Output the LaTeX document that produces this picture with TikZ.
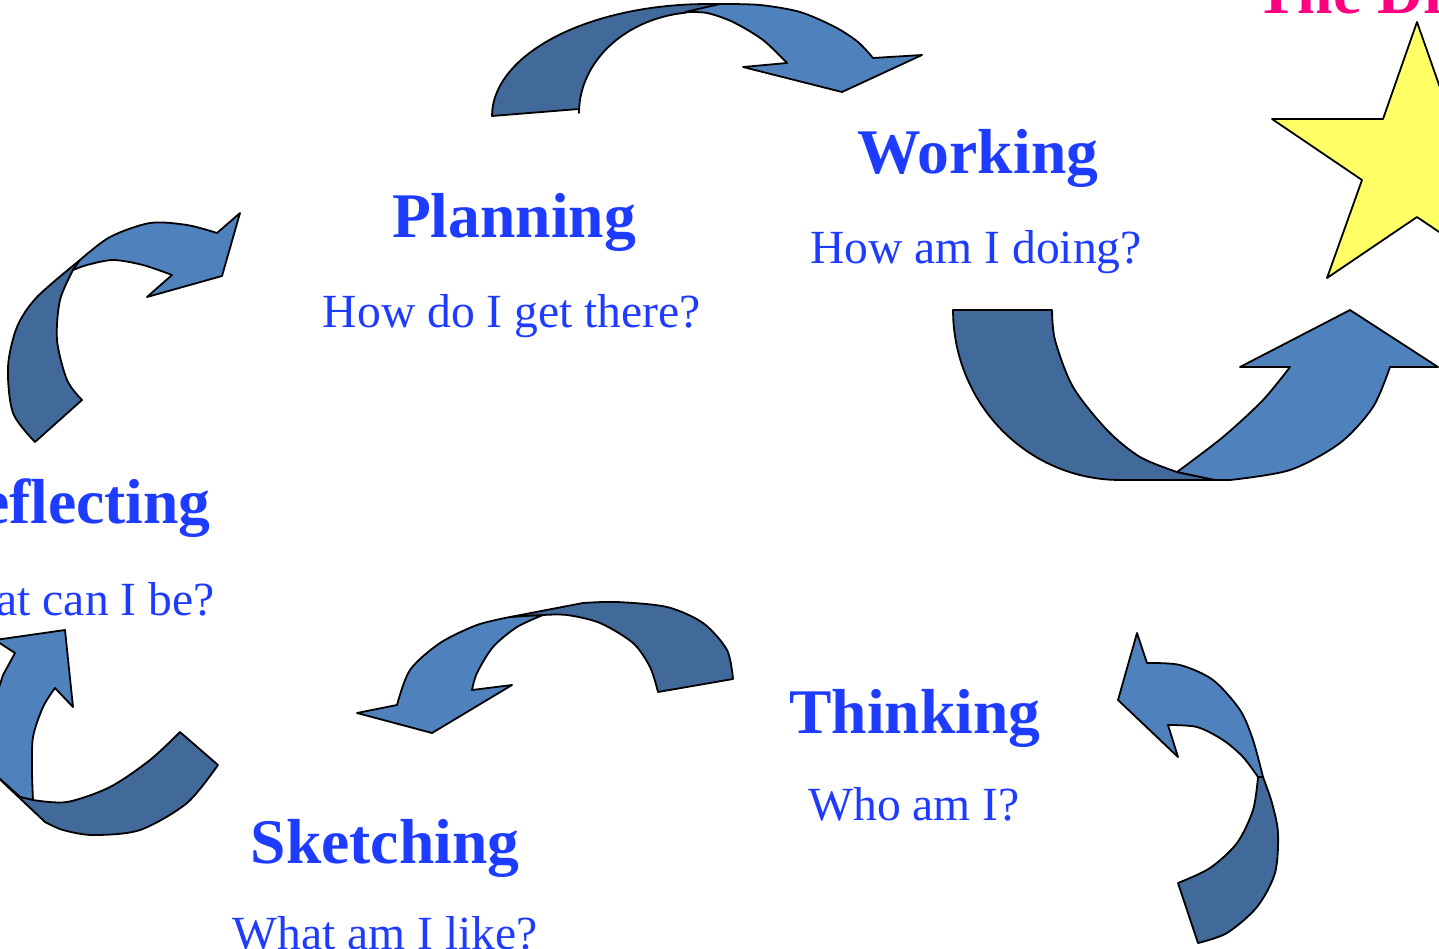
\documentclass[tikz,border=0pt]{standalone}
\usepackage{fontspec}
\setmainfont{Liberation Serif}
\definecolor{textblue}{RGB}{30,60,255}
\definecolor{titlepink}{RGB}{255,0,128}
\definecolor{arrowdark}{RGB}{65,105,153}
\definecolor{arrowlight}{RGB}{79,129,189}
\definecolor{staryellow}{RGB}{255,255,102}

\begin{document}
\begin{tikzpicture}[x=0.5pt,y=-0.5pt,
    back/.style={fill=arrowdark,draw=black,line width=0.9pt,line join=round},
    front/.style={fill=arrowlight,draw=black,line width=0.9pt,line join=round},
    stage/.style={text=textblue,font=\fontsize{31.8}{36}\selectfont\bfseries,inner sep=0pt,anchor=base},
    question/.style={text=textblue,font=\fontsize{23.8}{28}\selectfont,inner sep=0pt,anchor=base}]
        \useasboundingbox (0,0) rectangle (1439,948);
        \clip (0,0) rectangle (1439,948);
        % star
        \filldraw[fill=staryellow,draw=black,line width=0.9pt,line join=round] (1417,22) -- (1451,119) -- (1562,119) -- (1472,180) -- (1507,278) -- (1417,217) -- (1327,278) -- (1362,180) -- (1272,119) -- (1383,119) -- cycle;
        \node[text=titlepink,font=\fontsize{31.8}{36}\selectfont\bfseries,inner sep=0pt,anchor=base west] (title) at (1255,13) {The Dream};
        % planning -> working
        \filldraw[back] (492,116) -- (579,109) -- plot[domain=180:97,samples=25,smooth] ({700+121*cos(\x)},{113-101*sin(\x)}) -- (720,4) -- plot[domain=90:180,samples=25,smooth] ({708+216*cos(\x)},{116-112*sin(\x)}) -- cycle;
        \filldraw[front] (685,12) -- (720,4) -- plot[smooth] coordinates {(720,4) (760,5) (800,12) (835,27) (858,42) (873,58)} -- (922,55) -- (842,92) -- (743,67) -- (787,63) -- plot[smooth] coordinates {(787,63) (763,40) (733,22) (707,13) (685,12)} -- cycle;
        % working -> star
        \filldraw[back] (953,310) -- (1052,310) -- plot[smooth] coordinates {(1052,310) (1055,340) (1073,387) (1107,430) (1140,457) (1177,472)} -- (1215,480) -- (1120,480) -- plot[domain=90:180,samples=25,smooth] ({1120+167*cos(\x)},{310+170*sin(\x)}) -- cycle;
        \filldraw[front] (1177,472) -- plot[smooth] coordinates {(1177,472) (1223,437) (1263,400) (1290,367)} -- (1240,367) -- (1350,310) -- (1438,367) -- (1390,367) -- plot[smooth] coordinates {(1390,367) (1373,407) (1340,443) (1290,470) (1230,480)} -- (1215,480) -- cycle;
        % reflecting -> planning
        \filldraw[back] (35,442) -- (82,400) -- plot[smooth] coordinates {(82,400) (67,380) (57,340) (60,300) (73,270)} -- (80,260) -- plot[smooth] coordinates {(80,260) (37,297) (17,327) (8,367) (13,413) (35,442)} -- cycle;
        \filldraw[front] (73,270) -- (80,260) -- plot[smooth] coordinates {(80,260) (110,237) (150,223) (187,225) (217,233)} -- (240,213) -- (222,276) -- (147,297) -- (172,275) -- plot[smooth] coordinates {(172,275) (143,265) (113,260) (87,265) (73,270)} -- cycle;
        % sketching -> reflecting
        \filldraw[front] (33,800) -- plot[smooth] coordinates {(33,800) (32,770) (33,737) (43,707) (55,688)} -- (73,707) -- (65,630) -- (-5,640) -- (15,653) -- (3,675) -- (-5,700) -- (-10,770) -- (20,797) -- cycle;
        \filldraw[back] (180,732) -- (218,765) -- plot[smooth] coordinates {(218,765) (187,803) (140,830) (93,835) (63,830) (45,822)} -- (-10,770) -- (20,797) -- (33,800) -- plot[smooth] coordinates {(33,800) (67,802) (110,787) (150,760) (180,732)} -- cycle;
        % thinking -> sketching
        \filldraw[back] (658,692) -- (733,679) -- plot[smooth] coordinates {(733,679) (727,650) (703,623) (667,607) (617,602) (583,603)} -- (510,617) -- (543,615) -- plot[smooth] coordinates {(543,615) (567,615) (600,623) (633,643) (650,667) (658,692)} -- cycle;
        \filldraw[front] (543,615) -- (510,617) -- plot[smooth] coordinates {(510,617) (477,625) (440,643) (410,670) (397,705)} -- (357,713) -- (432,733) -- (512,685) -- (472,690) -- plot[smooth] coordinates {(472,690) (477,673) (493,647) (517,627) (543,615)} -- cycle;
        % star side -> thinking
        \filldraw[back] (1178,883) -- plot[smooth] coordinates {(1178,883) (1210,868) (1237,843) (1253,810) (1258,777)} -- (1263,777) -- plot[smooth] coordinates {(1263,777) (1272,803) (1278,833) (1275,873) (1257,907) (1227,933) (1198,943)} -- cycle;
        \filldraw[front] (1258,777) -- (1263,777) -- plot[smooth] coordinates {(1263,777) (1253,740) (1240,710) (1213,680) (1180,665) (1147,663)} -- (1137,633) -- (1118,700) -- (1178,757) -- (1168,725) -- plot[smooth] coordinates {(1168,725) (1197,727) (1223,740) (1243,757) (1258,777)} -- cycle;
        % texts
        \node[stage] (planning) at (514,237) {Planning};
        \node[question] (planningq) at (512,327) {How do I get there?};
        \node[stage] (working) at (978,173) {Working};
        \node[question] (workingq) at (976,263) {How am I doing?};
        \node[stage,anchor=base east] (reflecting) at (211,523) {Reflecting};
        \node[question,anchor=base east] (reflectingq) at (215,615) {What can I be?};
        \node[stage] (thinking) at (915,733) {Thinking};
        \node[question] (thinkingq) at (914,820) {Who am I?};
        \node[stage] (sketching) at (385,863) {Sketching};
        \node[question] (sketchingq) at (385,949) {What am I like?};
\end{tikzpicture}
\end{document}
